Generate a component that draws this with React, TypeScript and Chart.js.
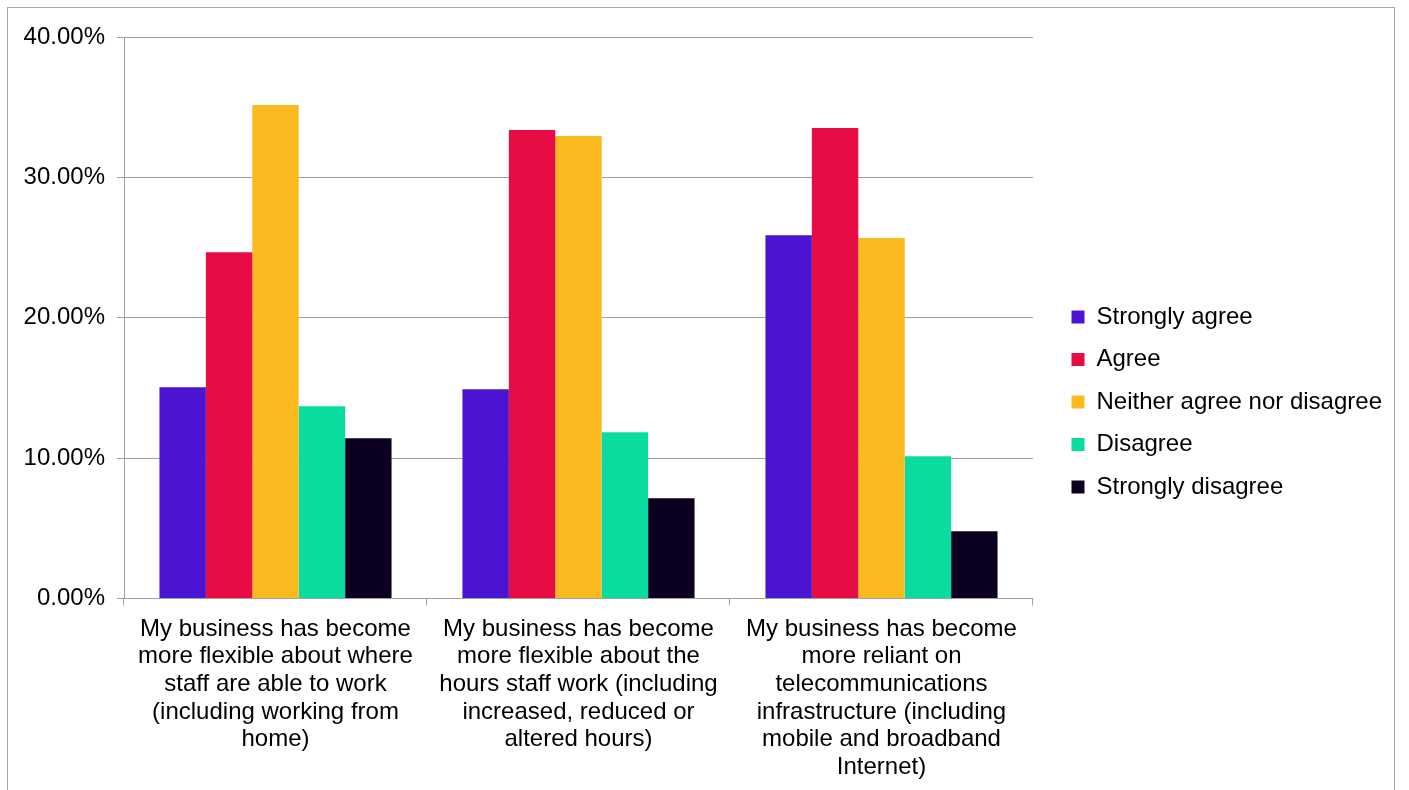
import React, { useEffect, useRef } from "react";
import { Chart, registerables } from "chart.js";

Chart.register(...registerables);

const categories: string[][] = [
  ["My business has become", "more flexible about where", "staff are able to work", "(including working from", "home)"],
  ["My business has become", "more flexible about the", "hours staff work (including", "increased, reduced or", "altered hours)"],
  ["My business has become", "more reliant on", "telecommunications", "infrastructure (including", "mobile and broadband", "Internet)"],
];

const seriesNames = ["Strongly agree", "Agree", "Neither agree nor disagree", "Disagree", "Strongly disagree"];
const stronglyAgree = [15.04, 14.9, 25.88];
const agree = [24.67, 33.37, 33.51];
const neither = [35.15, 32.94, 25.67];
const disagree = [13.69, 11.84, 10.12];
const stronglyDisagree = [11.41, 7.13, 4.78];
const seriesColors = ["#4b14d2", "#e80c45", "#fbba20", "#0adca0", "#0c0020"];
const yTicks = [0, 10, 20, 30, 40];

const FONT = "'Liberation Sans', Arial, sans-serif";
const LEGEND_GAP = 20;
const LEGEND_SHIFT_Y = -12;

const legendGap = {
  id: "legendGap",
  beforeLayout(chart: any) {
    const lg: any = chart.legend;
    if (lg && !lg.__gap) {
      lg.__gap = true;
      const fit = lg.fit.bind(lg);
      lg.fit = function () {
        fit();
        this.width += LEGEND_GAP;
      };
      const draw = lg.draw.bind(lg);
      lg.draw = function (...args: any[]) {
        const ctx = this.ctx;
        ctx.save();
        ctx.translate(LEGEND_GAP, LEGEND_SHIFT_Y);
        draw(...args);
        ctx.restore();
      };
    }
  },
};

export default function App() {
  const ref = useRef<HTMLCanvasElement | null>(null);
  useEffect(() => {
    if (!ref.current) return;
    const values = [stronglyAgree, agree, neither, disagree, stronglyDisagree];
    const chart = new Chart(ref.current, {
      type: "bar",
      data: {
        labels: categories,
        datasets: values.map((v, i) => ({
          label: seriesNames[i],
          data: v,
          backgroundColor: seriesColors[i],
          borderWidth: 0,
          categoryPercentage: 0.766,
          barPercentage: 1,
        })),
      },
      plugins: [legendGap],
      options: {
        responsive: false,
        animation: false,
        layout: { padding: { left: 0, top: 37, right: 17, bottom: 5 } },
        plugins: {
          tooltip: { enabled: false },
          legend: {
            position: "right",
            align: "center",
            labels: {
              font: { family: FONT, size: 24, lineHeight: 1.15 },
              color: "#000",
              boxWidth: 13,
              boxHeight: 13,
              padding: 18.5,
            },
          },
        },
        scales: {
          x: {
            grid: { display: true, drawOnChartArea: false, drawTicks: true, tickLength: 7, color: "#a0a0a0", offset: true },
            border: { display: true, color: "#a0a0a0" },
            ticks: {
              font: { family: FONT, size: 24, lineHeight: 1.15 },
              color: "#000",
              maxRotation: 0,
              minRotation: 0,
              autoSkip: false,
              padding: 10,
            },
          },
          y: {
            min: 0,
            max: 40,
            afterFit: (s: any) => { s.width = 124; },
            afterBuildTicks: (s: any) => { s.ticks = yTicks.map((v) => ({ value: v })); },
            grid: { color: "#a0a0a0", tickLength: 7 },
            border: { display: true, color: "#a0a0a0" },
            ticks: {
              font: { family: FONT, size: 24 },
              color: "#000",
              padding: 12,
              callback: (v: any) => Number(v).toFixed(2) + "%",
            },
          },
        },
      } as any,
    });
    return () => chart.destroy();
  }, []);
  return (
    <div style={{ position: "absolute", left: 0, top: 0, width: 1409, height: 790, overflow: "hidden", background: "#fff" }}>
      <div style={{ position: "absolute", left: 7, top: 7, width: 1386, height: 820, border: "1px solid #a6a6a6" }} />
      <canvas ref={ref} width={1409} height={796} style={{ position: "absolute", left: 0, top: 0 }} />
    </div>
  );
}
